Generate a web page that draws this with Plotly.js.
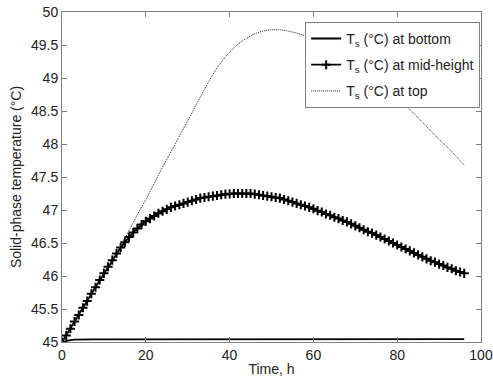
<!DOCTYPE html>
<html><head><meta charset="utf-8">
<script src="https://cdn.plot.ly/plotly-3.0.1.min.js"></script>
<style>html,body{margin:0;padding:0;background:#fff;}#chart{width:493px;height:379px;}</style>
</head><body><div id="chart"></div>
<script>
// Hourly time for mid-height series
const timeMid = [0,1,2,3,4,5,6,7,8,9,10,11,12,13,14,15,16,17,18,19,20,21,22,23,24,25,26,27,28,29,30,31,32,33,34,35,36,37,38,39,40,41,42,43,44,45,46,47,48,49,50,51,52,53,54,55,56,57,58,59,60,61,62,63,64,65,66,67,68,69,70,71,72,73,74,75,76,77,78,79,80,81,82,83,84,85,86,87,88,89,90,91,92,93,94,95,96];
const tsMid = [45.00,45.10,45.20,45.31,45.41,45.52,45.62,45.73,45.83,45.94,46.04,46.14,46.24,46.34,46.43,46.51,46.59,46.66,46.72,46.78,46.83,46.87,46.91,46.95,46.98,47.01,47.04,47.06,47.08,47.10,47.12,47.14,47.16,47.18,47.19,47.20,47.21,47.22,47.23,47.24,47.245,47.25,47.25,47.25,47.25,47.25,47.24,47.23,47.22,47.21,47.20,47.19,47.18,47.16,47.14,47.12,47.10,47.08,47.06,47.04,47.02,46.99,46.97,46.94,46.92,46.89,46.87,46.84,46.82,46.79,46.76,46.73,46.70,46.67,46.65,46.62,46.59,46.56,46.53,46.50,46.47,46.44,46.41,46.38,46.35,46.32,46.29,46.26,46.23,46.21,46.18,46.16,46.13,46.11,46.08,46.06,46.04];
// Two-hourly time for top series
const timeTop = [0,2,4,6,8,10,12,14,16,18,20,22,24,26,28,30,32,34,36,38,40,42,44,46,48,50,52,54,56,58,60,62,64,66,68,70,72,74,76,78,80,82,84,86,88,90,92,94,96];
const tsTop = [45.00,45.20,45.41,45.62,45.83,46.04,46.25,46.46,46.69,46.93,47.16,47.40,47.65,47.88,48.12,48.35,48.59,48.83,49.05,49.24,49.39,49.51,49.60,49.67,49.71,49.73,49.73,49.71,49.68,49.64,49.59,49.53,49.46,49.38,49.30,49.21,49.12,49.02,48.92,48.81,48.70,48.58,48.46,48.33,48.20,48.07,47.95,47.82,47.68];
const timeBottom = [0,1,2,3,4,6,8,12,16,20,30,40,50,60,70,80,90,96];
const tsBottom = [45.00,45.02,45.03,45.035,45.038,45.04,45.04,45.04,45.04,45.04,45.042,45.042,45.043,45.043,45.044,45.044,45.045,45.045];
const names = ['T<sub>s</sub> (°C) at bottom','T<sub>s</sub> (°C) at mid-height','T<sub>s</sub> (°C) at top'];
const xTicks = [0,20,40,60,80,100];
const yTicks = [45,45.5,46,46.5,47,47.5,48,48.5,49,49.5,50];

const font = {family:'Liberation Sans, Arial, sans-serif', size:14, color:'#222'};
const traces = [
  {x:timeBottom, y:tsBottom, name:names[0], legendgroup:'a', mode:'lines', line:{color:'#000', width:1.8}},
  {x:timeMid, y:tsMid, name:names[1], legendgroup:'b', mode:'lines+markers', line:{color:'#000', width:1.8},
   marker:{symbol:'cross-thin', size:6.5, color:'#000', line:{color:'#000', width:2}}},
  {x:timeTop, y:tsTop, name:names[2], legendgroup:'c', mode:'lines', line:{color:'#222', width:1, dash:'1px,1px', shape:'spline'}}
];
const axisCommon = {showgrid:false, zeroline:false, showline:true, linecolor:'#808080', linewidth:1,
  mirror:'ticks', ticks:'inside', ticklen:5, tickcolor:'#808080', tickfont:font};
const layout = {
  width:493, height:379, font:font,
  paper_bgcolor:'#fff', plot_bgcolor:'#fff',
  margin:{l:62, r:12, t:12, b:37},
  xaxis:Object.assign({}, axisCommon, {range:[0,100], tickvals:xTicks, ticktext:xTicks.map(String),
    title:{text:'Time, h', font:font, standoff:2}}),
  yaxis:Object.assign({}, axisCommon, {range:[45,50], tickvals:yTicks, ticktext:yTicks.map(String),
    title:{text:'Solid-phase temperature (°C)', font:font, standoff:6}}),
  legend:{x:0.998, xanchor:'right', y:0.97, yanchor:'top', bgcolor:'#fff', bordercolor:'#808080', borderwidth:1,
    font:font, tracegroupgap:5, itemwidth:30},
  showlegend:true
};
Plotly.newPlot('chart', traces, layout, {staticPlot:true, displayModeBar:false});
</script></body></html>
